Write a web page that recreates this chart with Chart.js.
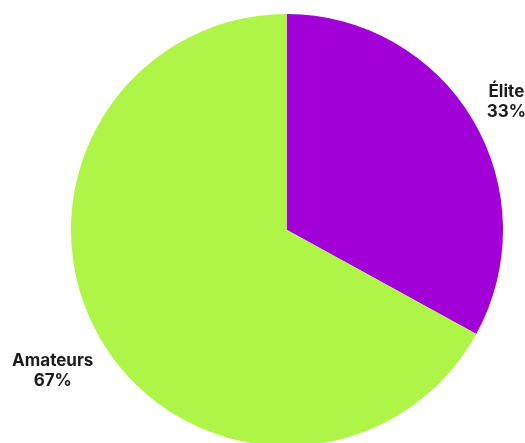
<!DOCTYPE html>
<html>
<head>
<meta charset="utf-8">
<script src="https://cdn.jsdelivr.net/npm/chart.js@4/dist/chart.umd.min.js"></script>
<style>
  html, body { margin: 0; padding: 0; background: #fff; overflow: hidden; }
  #wrap { position: relative; width: 525px; height: 446px; }
</style>
</head>
<body>
<div id="wrap"><canvas id="pie"></canvas></div>
<script>
const labels = ['Élite', 'Amateurs'];
const values = [33, 67];
const colors = ['#a100d6', '#aef548'];

// labels outside the pie, along each slice's middle angle
const outsideLabels = {
    id: 'outsideLabels',
    afterDatasetsDraw(chart) {
        const ctx = chart.ctx;
        const meta = chart.getDatasetMeta(0);
        const total = values.reduce((a, b) => a + b, 0);
        const W = chart.width;
        ctx.save();
        ctx.font = 'bold 17px Inter, "Liberation Sans", sans-serif';
        ctx.fillStyle = '#1b1b1b';
        ctx.textAlign = 'center';
        ctx.textBaseline = 'middle';
        meta.data.forEach((arc, i) => {
            const { x, y, startAngle, endAngle, outerRadius } = arc.getProps(['x', 'y', 'startAngle', 'endAngle', 'outerRadius'], true);
            const mid = (startAngle + endAngle) / 2;
            const pct = Math.round(values[i] / total * 100) + '%';
            const w = Math.max(ctx.measureText(labels[i]).width, ctx.measureText(pct).width);
            let d = outerRadius * 1.26;
            // pull back along the ray if the text would run off the canvas
            const maxX = W - w / 2 + 1;
            if (x + Math.cos(mid) * d > maxX) d = (maxX - x) / Math.cos(mid);
            const lx = x + Math.cos(mid) * d;
            const ly = y + Math.sin(mid) * d + 2;
            ctx.fillText(labels[i], lx, ly - 10);
            ctx.fillText(pct, lx, ly + 10);
        });
        ctx.restore();
    },
};

new Chart(document.getElementById('pie'), {
    type: 'pie',
    data: {
        labels,
        datasets: [{
            data: values,
            backgroundColor: colors,
            borderWidth: 0,
        }],
    },
    options: {
        responsive: true,
        maintainAspectRatio: false,
        animation: false,
        layout: { padding: { top: 14, left: 71, right: 22, bottom: 0 } },
        plugins: {
            legend: { display: false },
            tooltip: { enabled: false },
        },
    },
    plugins: [outsideLabels],
});
</script>
</body>
</html>
